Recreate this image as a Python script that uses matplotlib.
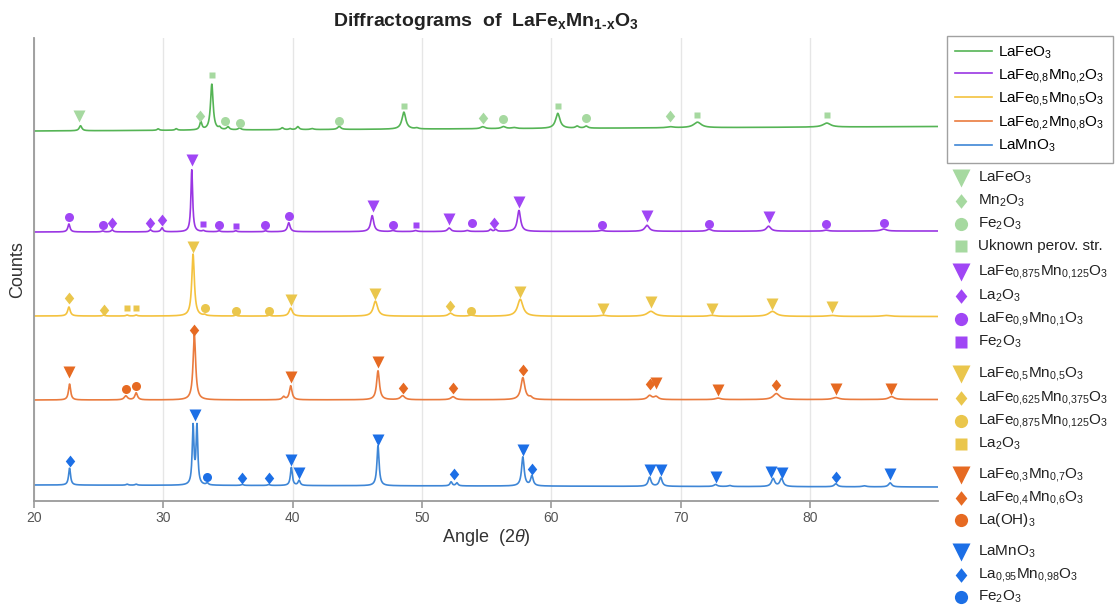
import numpy as np
import matplotlib
matplotlib.use('Agg')
import matplotlib.pyplot as plt
from matplotlib.lines import Line2D

plt.rcParams['font.family'] = ['Liberation Sans', 'DejaVu Sans']
plt.rcParams['mathtext.fontset'] = 'custom'
plt.rcParams['mathtext.rm'] = 'Liberation Sans'
plt.rcParams['mathtext.it'] = 'Liberation Sans:italic'
plt.rcParams['mathtext.bf'] = 'Liberation Sans:bold'

# Peak lists: (angle, height, half width)
lafeo3_peaks = [(23.6, 5, 0.12), (29.6, 1.5, 0.1), (31.0, 1.5, 0.1), (32.9, 8, 0.1),
                (33.75, 46, 0.12), (34.35, 2, 0.1), (35.0, 3, 0.12), (35.9, 2, 0.12),
                (39.2, 2, 0.12), (39.8, 1, 0.1), (40.4, 3, 0.12), (41.5, 1, 0.15),
                (43.6, 3, 0.15), (48.6, 17, 0.18), (49.6, 1, 0.15), (54.7, 2, 0.2),
                (56.3, 2, 0.2), (57.1, 1, 0.2), (60.5, 15, 0.2), (62.0, 2, 0.15),
                (62.7, 2, 0.15), (69.2, 1, 0.3), (71.3, 5.5, 0.35), (81.3, 4, 0.35)]
fe08_peaks = [(22.7, 8, 0.1), (25.3, 1, 0.1), (26.05, 2, 0.1), (29.0, 2, 0.1),
              (29.9, 4, 0.1), (32.2, 62, 0.08), (33.1, 1, 0.1), (34.3, 1, 0.1),
              (35.6, 1, 0.1), (37.9, 1, 0.1), (39.7, 9, 0.12), (46.15, 16, 0.14),
              (47.75, 1, 0.15), (49.5, 1, 0.15), (52.1, 3.5, 0.15), (53.5, 1, 0.15),
              (55.3, 2, 0.1), (55.7, 2, 0.1), (57.5, 21, 0.15), (63.9, 1, 0.2),
              (67.4, 6, 0.2), (72.2, 2, 0.2), (76.8, 5, 0.2), (81.25, 1, 0.2), (85.7, 2, 0.25)]
fe05_peaks = [(22.7, 9, 0.12), (25.4, 1, 0.1), (27.2, 1, 0.1), (27.9, 1, 0.1),
              (32.3, 62, 0.12), (33.2, 1, 0.1), (35.6, 1, 0.1), (38.2, 1, 0.1),
              (39.85, 8, 0.15), (46.4, 15, 0.2), (52.2, 3, 0.2), (53.8, 1, 0.2),
              (57.6, 17, 0.25), (64.0, 1, 0.3), (67.7, 5, 0.35), (72.4, 1, 0.3),
              (77.1, 5, 0.35), (81.7, 1, 0.4), (85.9, 1, 0.4)]
fe02_peaks = [(22.75, 16, 0.1), (27.1, 4, 0.15), (27.9, 7, 0.12), (32.4, 65, 0.12),
              (39.3, 3, 0.12), (39.85, 14, 0.12), (46.6, 29, 0.13), (48.5, 4, 0.2),
              (52.4, 3, 0.2), (57.8, 22, 0.18), (58.4, 2, 0.15), (67.6, 4, 0.2),
              (68.1, 3, 0.2), (72.9, 1.5, 0.25), (77.4, 6, 0.3), (82.0, 2, 0.3), (86.3, 3, 0.25)]
lamno3_peaks = [(22.75, 17, 0.09), (27.2, 1, 0.1), (27.9, 1, 0.1), (32.3, 58, 0.08),
                (32.6, 58, 0.08), (33.4, 2, 0.1), (36.1, 1, 0.1), (38.15, 1, 0.1),
                (39.9, 18, 0.09), (40.5, 5, 0.1), (46.6, 40, 0.1), (52.25, 4, 0.1),
                (52.7, 3, 0.1), (57.8, 29, 0.12), (58.5, 10, 0.12), (67.6, 9, 0.13),
                (68.45, 9, 0.13), (72.7, 2, 0.15), (73.8, 1, 0.15), (77.15, 8, 0.15),
                (77.8, 8, 0.15), (82.0, 3, 0.15), (84.2, 1, 0.2), (86.2, 4, 0.15)]

# baseline (start, end) of each stacked trace
lafeo3_base = (370, 374.5)
fe08_base = (269, 270)
fe05_base = (185, 184.5)
fe02_base = (101, 101.5)
lamno3_base = (16, 14)

# phase markers (angle, level)
g_tri = [(23.5, 385)]
g_dia = [(32.85, 385), (54.7, 383), (69.2, 385)]
g_cir = [(34.8, 380), (35.9, 378), (43.6, 380), (56.3, 382), (62.7, 383)]
g_sq = [(33.8, 426), (48.6, 395), (60.5, 395), (71.3, 386), (81.3, 386)]

p_tri = [(32.2, 341), (46.2, 295), (52.1, 282), (57.5, 299), (67.4, 285), (76.8, 284)]
p_dia = [(26.05, 278), (29.0, 278), (29.9, 281), (55.6, 278)]
p_cir = [(22.7, 284), (25.3, 276), (34.3, 276), (37.9, 276), (39.7, 285), (47.75, 276),
         (53.9, 278), (63.9, 276), (72.2, 277), (81.25, 277), (85.7, 278)]
p_sq = [(33.1, 277), (35.6, 275), (49.5, 276)]

y_tri = [(32.3, 254), (39.85, 201), (46.4, 207), (57.6, 209), (64.0, 192), (67.7, 199),
         (72.4, 192), (77.1, 197), (81.7, 194)]
y_dia = [(22.7, 203), (25.4, 191), (52.2, 195)]
y_cir = [(33.2, 193), (35.6, 190), (38.2, 190), (53.8, 190)]
y_sq = [(27.2, 193), (27.9, 193)]

o_tri = [(22.7, 129), (39.85, 124), (46.6, 139), (68.1, 118), (72.9, 111), (82.0, 112), (86.3, 112)]
o_dia = [(32.4, 171), (48.5, 113), (52.4, 113), (57.8, 131), (67.6, 117), (77.4, 116)]
o_cir = [(27.1, 112), (27.9, 115)]

b_tri = [(32.45, 86), (39.9, 41), (40.5, 28), (46.6, 61), (57.8, 51), (67.6, 31), (68.45, 31),
         (72.75, 24), (77.0, 29), (77.8, 28), (86.2, 27)]
b_dia = [(22.75, 40), (36.1, 23), (38.15, 23), (52.5, 27), (58.5, 32), (82.0, 24)]
b_cir = [(33.35, 24)]

series_names = ['LaFeO$_3$', 'LaFe$_{0{,}8}$Mn$_{0{,}2}$O$_3$', 'LaFe$_{0{,}5}$Mn$_{0{,}5}$O$_3$',
                'LaFe$_{0{,}2}$Mn$_{0{,}8}$O$_3$', 'LaMnO$_3$']
line_colors = ['#55b455', '#9a36e3', '#f4c23e', '#ea7b3e', '#3e86d6']
mark_colors = ['#a6d9a0', '#a046f5', '#eac64c', '#e66a22', '#1c6fe6']

phase_labels = [
    ['LaFeO$_3$', 'Mn$_2$O$_3$', 'Fe$_2$O$_3$', 'Uknown perov. str.'],
    ['LaFe$_{0{,}875}$Mn$_{0{,}125}$O$_3$', 'La$_2$O$_3$', 'LaFe$_{0{,}9}$Mn$_{0{,}1}$O$_3$', 'Fe$_2$O$_3$'],
    ['LaFe$_{0{,}5}$Mn$_{0{,}5}$O$_3$', 'LaFe$_{0{,}625}$Mn$_{0{,}375}$O$_3$',
     'LaFe$_{0{,}875}$Mn$_{0{,}125}$O$_3$', 'La$_2$O$_3$'],
    ['LaFe$_{0{,}3}$Mn$_{0{,}7}$O$_3$', 'LaFe$_{0{,}4}$Mn$_{0{,}6}$O$_3$', 'La(OH)$_3$'],
    ['LaMnO$_3$', 'La$_{0{,}95}$Mn$_{0{,}98}$O$_3$', 'Fe$_2$O$_3$'],
]


def profile(x, peaks, base):
    y = np.linspace(base[0], base[1], len(x))
    for pos, h, w in peaks:
        y = y + h * w**2 / ((x - pos)**2 + w**2)
    return y


diamond = [(0, 1), (0.8, 0), (0, -1), (-0.8, 0), (0, 1)]

angle = np.arange(20.0, 89.9, 0.02)
all_peaks = [lafeo3_peaks, fe08_peaks, fe05_peaks, fe02_peaks, lamno3_peaks]
all_bases = [lafeo3_base, fe08_base, fe05_base, fe02_base, lamno3_base]
all_marks = [[g_tri, g_dia, g_cir, g_sq], [p_tri, p_dia, p_cir, p_sq],
             [y_tri, y_dia, y_cir, y_sq], [o_tri, o_dia, o_cir], [b_tri, b_dia, b_cir]]
shapes = ['v', diamond, 'o', 's']
plot_ms = [9, 8.5, 6.5, 5]
leg_ms = [13, 10.5, 9.5, 8]

fig = plt.figure(figsize=(11.15, 6.08), dpi=100)
ax = fig.add_axes([34 / 1115, 107 / 608, 904 / 1115, 463 / 608])

handles = []
for i in range(5):
    y = profile(angle, all_peaks[i], all_bases[i])
    h, = ax.plot(angle, y, color=line_colors[i], lw=1.2, label=series_names[i])
    handles.append(h)
    for k, pts in enumerate(all_marks[i]):
        xs = [p[0] for p in pts]
        ys = [p[1] for p in pts]
        ax.plot(xs, ys, ls='none', marker=shapes[k], ms=plot_ms[k],
                color=mark_colors[i], mec='none', clip_on=False)

ax.set_xlim(20, 89.9)
ax.set_ylim(0, 463)
ax.set_xticks(range(20, 90, 10))
ax.set_yticks([])
ax.grid(axis='x', color='#e6e6e6', lw=1)
ax.set_axisbelow(True)
for s in ['top', 'right']:
    ax.spines[s].set_visible(False)
for s in ['left', 'bottom']:
    ax.spines[s].set_color('#9a9a9a')
    ax.spines[s].set_linewidth(1.3)
ax.tick_params(axis='x', colors='#9a9a9a', labelcolor='#555555', labelsize=10,
               length=5, width=1.2, pad=2)
ax.set_xlabel(r'Angle  $(2\theta)$', fontsize=13, color='#333333', labelpad=2)
ax.set_ylabel('Counts', fontsize=13, color='#333333', labelpad=6)
ax.set_title('Diffractograms  of  LaFe$_\\mathbf{x}$Mn$_\\mathbf{1\u2010x}$O$_\\mathbf{3}$',
             fontsize=14, fontweight='bold', color='#222222', pad=9)

leg = fig.legend(handles=handles, loc='upper left', bbox_to_anchor=(947 / 1115, 1 - 36 / 608),
                 fontsize=11, frameon=True, fancybox=False, edgecolor='#8a8a8a',
                 handlelength=2.4, labelspacing=0.38, borderpad=0.55, handletextpad=0.4,
                 borderaxespad=0)
leg.get_frame().set_linewidth(1.0)

# phase legend, drawn by hand
row_y = [[178, 201, 224, 246], [272, 296, 319, 342], [374, 398, 421, 444],
         [475, 498, 520], [552, 575, 597]]
for i in range(5):
    for j, lab in enumerate(phase_labels[i]):
        yy = 1 - row_y[i][j] / 608
        fig.add_artist(Line2D([961 / 1115], [yy], marker=shapes[j], ms=leg_ms[j], ls='none',
                              color=mark_colors[i], mec='none', transform=fig.transFigure))
        fig.text(978 / 1115, yy, lab, fontsize=11, va='center', ha='left', color='#222222')

fig.savefig('out.png', dpi=100)
